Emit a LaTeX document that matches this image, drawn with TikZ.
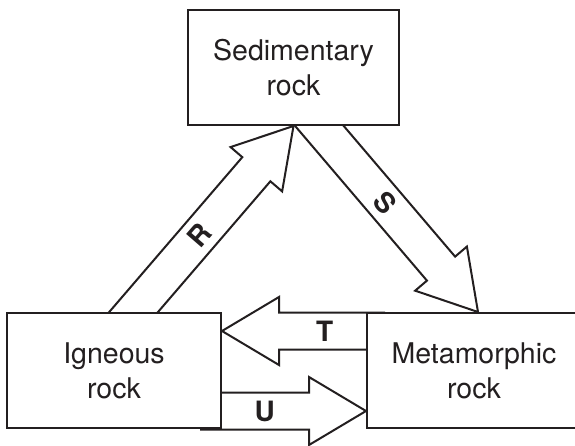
\documentclass[tikz,border=0pt]{standalone}
\usepackage{fontspec}
\setmainfont{TeX Gyre Heros}
\usetikzlibrary{calc,backgrounds}

\definecolor{rockink}{HTML}{231F20}

% block arrow from a tail point (hidden inside a box) to a tip point
\newcommand{\rockarrow}[3]{%
  \coordinate (#3head) at ($(#2)!57pt!(#1)$);
  \draw[flow] ($(#1)!18.5pt!90:(#2)$) -- ($(#3head)!18.5pt!90:(#2)$)
    -- ($(#3head)!34pt!90:(#2)$) -- (#2)
    -- ($(#3head)!34pt!-90:(#2)$) -- ($(#3head)!18.5pt!-90:(#2)$)
    -- ($(#1)!18.5pt!-90:(#2)$);}

\begin{document}
\begin{tikzpicture}[
  x=1pt,y=-1pt,
  rockbox/.style={rectangle,draw=rockink,line width=2pt,fill=white,
                  text=rockink,minimum width=214pt,minimum height=115pt,
                  inner sep=0pt,align=center,
                  font=\fontsize{28.5}{35}\selectfont},
  flow/.style={draw=rockink,line width=2pt,line join=miter},
  letter/.style={font=\fontsize{28}{30}\selectfont\bfseries,text=rockink},
]
% the metamorphic box runs off the right edge
\useasboundingbox (0,0) rectangle (575,445);
\clip (0,0) rectangle (575,445);

% === Rock boxes ===
\node[rockbox,minimum width=211pt] (sed) at (293.5,67.5) {Sedimentary\\rock};
\node[rockbox] (ign) at (114,370.5) {Igneous\\rock};
\node[rockbox] (met) at (474,370.5) {Metamorphic\\rock};

% === Arrow ends ===
\coordinate (Rtail) at (113,336);
\coordinate (Rtip) at (sed.south);
\coordinate (Stail) at (299,102);
\coordinate (Stip) at ($(met.north west)+(112,0)$);
\coordinate (Ttail) at (385,331);
\coordinate (Ttip) at ($(ign.east)+(0,-39.5)$);
\coordinate (Utail) at (200,411);
\coordinate (Utip) at ($(met.west)+(0,40.5)$);

% === Block arrows (tails hidden behind the boxes) ===
\begin{pgfonlayer}{background}
  \rockarrow{Rtail}{Rtip}{R}
  \rockarrow{Stail}{Stip}{S}
  \rockarrow{Ttail}{Ttip}{T}
  \rockarrow{Utail}{Utip}{U}
\end{pgfonlayer}

% === Labels ===
\node[letter,rotate=49] (Rlab) at ($(Rtail)!0.48!(Rtip)$) {R};
\node[letter,rotate=-49] (Slab) at ($(Stail)!0.48!(Stip)$) {S};
\node[letter] (Tlab) at ($(Ttail)!0.37!(Ttip)$) {T};
\node[letter] (Ulab) at ($(Utail)!0.39!(Utip)$) {U};
\end{tikzpicture}
\end{document}
